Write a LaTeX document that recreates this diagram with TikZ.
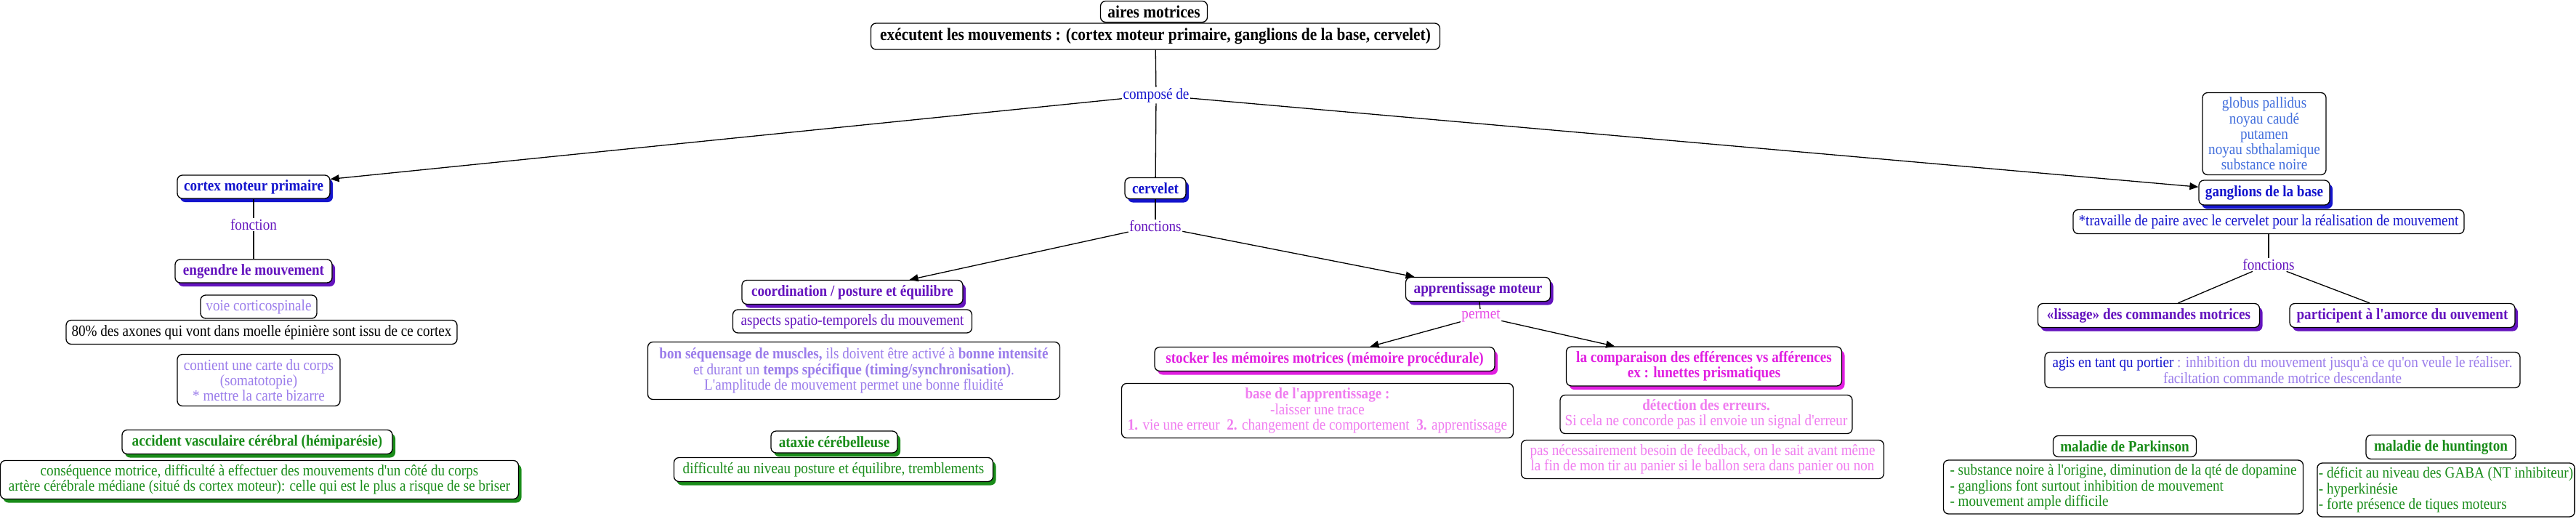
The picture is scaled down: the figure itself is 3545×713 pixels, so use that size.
\documentclass[tikz,border=0pt]{standalone}
\usepackage{fontspec}
\setmainfont{Liberation Serif}[Ligatures=TeXOff, FakeStretch=0.89]
\usetikzlibrary{arrows.meta,shadows}
\definecolor{cblue}{RGB}{20,20,205}
\definecolor{cpurple}{RGB}{100,20,190}
\definecolor{clav}{RGB}{155,125,235}
\definecolor{cgreen}{RGB}{25,140,25}
\definecolor{cmag}{RGB}{225,30,225}
\definecolor{cpink}{RGB}{240,125,240}
\definecolor{ccorn}{RGB}{65,110,220}
\newcommand\msz{\fontsize{21.5}{21.3}\selectfont}
\newcommand\bsz{\fontsize{24}{24}\selectfont\bfseries}
\tikzset{
  box/.style={draw=black, line width=1.3pt, rounded corners=7pt, fill=white, align=center, inner sep=2pt, font=\msz},
  sh/.style={drop shadow={shadow xshift=4pt, shadow yshift=-5pt, fill=#1, opacity=1}},
  lbl/.style={inner sep=1.5pt, font=\msz, fill=white},
  conn/.style={line width=1.3pt, draw=black},
  arr/.style={conn, -{Triangle[length=12pt,width=10pt]}},
}
\begin{document}
\begin{tikzpicture}[x=1pt,y=-1pt]
\useasboundingbox[fill=white] (0,0) rectangle (3545,713);
% top
\node[box, minimum width=147, minimum height=29, font=\bsz, inner sep=1pt] (aires) at (1588,16) {aires motrices};
\node[box, minimum width=783, minimum height=36, font=\bsz, inner sep=1pt] (exec) at (1590,50) {exécutent les mouvements : (cortex moteur primaire, ganglions de la base, cervelet)};
\node[lbl, text=cblue] (compose) at (1591,131) {composé de};
% cortex branch
\node[box, sh=cblue, text=cblue, font=\msz\bfseries, minimum width=210, minimum height=32] (cortex) at (349,257) {cortex moteur primaire};
\node[lbl, text=cpurple] (fonc1) at (349,309) {fonction};
\node[box, sh=cpurple, text=cpurple, font=\msz\bfseries, minimum width=216, minimum height=32] (engendre) at (349,373) {engendre le mouvement};
\node[box, text=clav, minimum width=160, minimum height=32] (voie) at (356,422) {voie corticospinale};
\node[box, minimum width=538, minimum height=33] (axones) at (360,457) {80\% des axones qui vont dans moelle épinière sont issu de ce cortex};
\node[box, text=clav, minimum width=224, minimum height=71] (contient) at (356,523) {contient une carte du corps\\(somatotopie)\\* mettre la carte bizarre};
\node[box, sh=cgreen, text=cgreen, font=\msz\bfseries, minimum width=372, minimum height=33] (avc) at (354,608) {accident vasculaire cérébral (hémiparésie)};
\node[box, sh=cgreen, text=cgreen, minimum width=713, minimum height=53] (consequence) at (357,660) {conséquence motrice, difficulté à effectuer des mouvements d'un côté du corps\\artère cérébrale médiane (situé ds cortex moteur): celle qui est le plus a risque de se briser};
% cervelet branch
\node[box, sh=cblue, text=cblue, font=\msz\bfseries, minimum width=84, minimum height=29] (cervelet) at (1590,259) {cervelet};
\node[lbl, text=cpurple] (fonc2) at (1590,311) {fonctions};
\node[box, sh=cpurple, text=cpurple, font=\msz\bfseries, minimum width=304, minimum height=33] (coord) at (1173,402) {coordination / posture et équilibre};
\node[box, text=cpurple, minimum width=329, minimum height=32] (aspects) at (1173,442) {aspects spatio-temporels du mouvement};
\node[box, text=clav, minimum width=567, minimum height=79] (sequence) at (1175,510) {\textbf{bon séquensage de muscles,} ils doivent être activé à \textbf{bonne intensité}\\et durant un \textbf{temps spécifique (timing/synchronisation)}.\\L'amplitude de mouvement permet une bonne fluidité};
\node[box, sh=cgreen, text=cgreen, font=\msz\bfseries, minimum width=174, minimum height=30] (ataxie) at (1148,608) {ataxie cérébelleuse};
\node[box, sh=cgreen, text=cgreen, minimum width=439, minimum height=33] (difficulte) at (1147,646) {difficulté au niveau posture et équilibre, tremblements};
\node[box, sh=cpurple, text=cpurple, font=\msz\bfseries, minimum width=199, minimum height=33] (appr) at (2034,398) {apprentissage moteur};
\node[lbl, text=cmag!80] (permet) at (2038,435) {permet};
\node[box, sh=cmag, text=cmag, font=\msz\bfseries, minimum width=468, minimum height=33] (stocker) at (1823,494) {stocker les mémoires motrices (mémoire procédurale)};
\node[box, sh=cmag, text=cmag, font=\msz\bfseries, minimum width=379, minimum height=54] (comparaison) at (2345,504) {la comparaison des efférences vs afférences\\ex : lunettes prismatiques};
\node[box, text=cpink, minimum width=539, minimum height=75] (base) at (1813,565) {\textbf{base de l'apprentissage :}\\-laisser une trace\\\textbf{1.} vie une erreur\ \ \textbf{2.} changement de comportement\ \ \textbf{3.} apprentissage};
\node[box, text=cpink, minimum width=402, minimum height=53] (detection) at (2348,570) {\textbf{détection des erreurs.}\\Si cela ne concorde pas il envoie un signal d'erreur};
\node[box, text=cpink, minimum width=499, minimum height=53] (pasnec) at (2343,632) {pas nécessairement besoin de feedback, on le sait avant même\\la fin de mon tir au panier si le ballon sera dans panier ou non};
% ganglions branch
\node[box, text=ccorn, minimum width=170, minimum height=113] (globus) at (3116,184) {globus pallidus\\noyau caudé\\putamen\\noyau sbthalamique\\substance noire};
\node[box, sh=cblue, text=cblue, font=\msz\bfseries, minimum width=180, minimum height=34] (ganglions) at (3116,265) {ganglions de la base};
\node[box, text=cblue, minimum width=538, minimum height=33] (travaille) at (3122,305) {*travaille de paire avec le cervelet pour la réalisation de mouvement};
\node[lbl, text=cpurple] (fonc3) at (3122,364) {fonctions};
\node[box, sh=cpurple, text=cpurple, font=\msz\bfseries, minimum width=305, minimum height=33] (lissage) at (2957,434) {«lissage» des commandes motrices};
\node[box, sh=cpurple, text=cpurple, font=\msz\bfseries, minimum width=310, minimum height=33] (amorce) at (3306,434) {participent à l'amorce du ouvement};
\node[box, text=clav, minimum width=654, minimum height=49] (agis) at (3141,509) {{\color{cblue}agis en tant qu portier} : inhibition du mouvement jusqu'à ce qu'on veule le réaliser.\\faciltation commande motrice descendante};
\node[box, text=cgreen, font=\msz\bfseries, minimum width=197, minimum height=29] (parkinson) at (2924,614) {maladie de Parkinson};
\node[box, text=cgreen, align=left, minimum width=495, minimum height=74] (parkdesc) at (2922,670) {- substance noire à l'origine, diminution de la qté de dopamine\\- ganglions font surtout inhibition de mouvement\\- mouvement ample difficile};
\node[box, text=cgreen, font=\msz\bfseries, minimum width=206, minimum height=33] (hunt) at (3359,615) {maladie de huntington};
\node[box, text=cgreen, align=left, minimum width=354, minimum height=74] (huntdesc) at (3366,674) {- déficit au niveau des GABA (NT inhibiteur)\\- hyperkinésie\\- forte présence de tiques moteurs};
% connectors
\draw[conn] (exec) -- (compose);
\draw[arr] (compose) -- (cortex);
\draw[conn] (compose) -- (cervelet);
\draw[arr] (compose) -- (ganglions);
\draw[conn] (cortex) -- (fonc1);
\draw[conn] (fonc1) -- (engendre);
\draw[conn] (cervelet) -- (fonc2);
\draw[arr] (fonc2) -- (coord);
\draw[arr] (fonc2) -- (appr);
\draw[conn] (appr) -- (permet);
\draw[arr] (permet) -- (stocker);
\draw[arr] (permet) -- (comparaison);
\draw[conn] (travaille) -- (fonc3);
\draw[conn] (fonc3) -- (lissage);
\draw[conn] (fonc3) -- (amorce);
\end{tikzpicture}
\end{document}
